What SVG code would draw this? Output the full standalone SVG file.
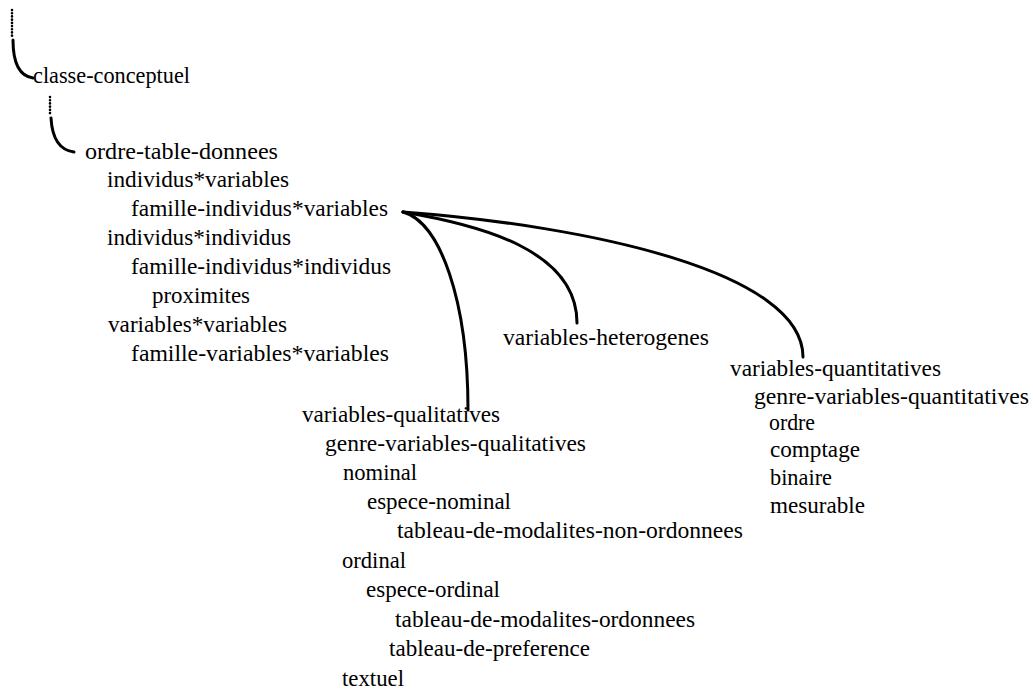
<svg xmlns="http://www.w3.org/2000/svg" width="1033" height="689" viewBox="0 0 1033 689">
<style>
text{font-family:"Liberation Serif","Times New Roman",serif;font-size:23px;fill:#000;}
.c{fill:none;stroke:#000;stroke-width:3;stroke-linecap:round;}
.d{fill:none;stroke:#000;stroke-width:2.6;stroke-linecap:round;stroke-dasharray:0.1 3.1;}
</style>
<rect width="1033" height="689" fill="#fff"/>
<g id="connectors">
<path class="d" d="M12,10 V37"/>
<path class="c" d="M13,40 C13,62 19,76 33,78"/>
<path class="d" d="M50,97 V115"/>
<path class="c" d="M51,118 C52,136 58,150 74,152"/>
<path class="c" d="M403,212 C440,222 468,300 468,410"/>
<path class="c" d="M403,212 C480,225 577,250 577,323"/>
<path class="c" d="M403,212 C590,226 803,272 803,357"/>
</g>
<g id="n-classe-conceptuel"><text x="33" y="83" textLength="157" lengthAdjust="spacingAndGlyphs">classe-conceptuel</text></g>
<g id="n-ordre-table-donnees"><text x="85" y="159" textLength="193" lengthAdjust="spacingAndGlyphs">ordre-table-donnees</text></g>
<g id="n-individus-variables"><text x="107" y="187" textLength="182" lengthAdjust="spacingAndGlyphs">individus*variables</text></g>
<g id="n-famille-individus-variables"><text x="131" y="216" textLength="257" lengthAdjust="spacingAndGlyphs">famille-individus*variables</text></g>
<g id="n-individus-individus"><text x="107" y="245" textLength="184" lengthAdjust="spacingAndGlyphs">individus*individus</text></g>
<g id="n-famille-individus-individus"><text x="131" y="274" textLength="260" lengthAdjust="spacingAndGlyphs">famille-individus*individus</text></g>
<g id="n-proximites"><text x="152" y="303" textLength="98" lengthAdjust="spacingAndGlyphs">proximites</text></g>
<g id="n-variables-variables"><text x="108" y="332" textLength="179" lengthAdjust="spacingAndGlyphs">variables*variables</text></g>
<g id="n-famille-variables-variables"><text x="131" y="361" textLength="258" lengthAdjust="spacingAndGlyphs">famille-variables*variables</text></g>
<g id="n-variables-heterogenes"><text x="503" y="345" textLength="206" lengthAdjust="spacingAndGlyphs">variables-heterogenes</text></g>
<g id="n-variables-quantitatives">
<text x="730" y="376" textLength="211" lengthAdjust="spacingAndGlyphs">variables-quantitatives</text>
<text x="754" y="404" textLength="275" lengthAdjust="spacingAndGlyphs">genre-variables-quantitatives</text>
<text x="769" y="430" textLength="46" lengthAdjust="spacingAndGlyphs">ordre</text>
<text x="770" y="457" textLength="90" lengthAdjust="spacingAndGlyphs">comptage</text>
<text x="770" y="485" textLength="62" lengthAdjust="spacingAndGlyphs">binaire</text>
<text x="770" y="513" textLength="95" lengthAdjust="spacingAndGlyphs">mesurable</text>
</g>
<g id="n-variables-qualitatives">
<text x="302" y="422" textLength="198" lengthAdjust="spacingAndGlyphs">variables-qualitatives</text>
<text x="325" y="451" textLength="261" lengthAdjust="spacingAndGlyphs">genre-variables-qualitatives</text>
<text x="343" y="480" textLength="74" lengthAdjust="spacingAndGlyphs">nominal</text>
<text x="367" y="509" textLength="144" lengthAdjust="spacingAndGlyphs">espece-nominal</text>
<text x="397" y="538" textLength="346" lengthAdjust="spacingAndGlyphs">tableau-de-modalites-non-ordonnees</text>
<text x="342" y="568" textLength="64" lengthAdjust="spacingAndGlyphs">ordinal</text>
<text x="366" y="597" textLength="134" lengthAdjust="spacingAndGlyphs">espece-ordinal</text>
<text x="395" y="627" textLength="300" lengthAdjust="spacingAndGlyphs">tableau-de-modalites-ordonnees</text>
<text x="389" y="656" textLength="201" lengthAdjust="spacingAndGlyphs">tableau-de-preference</text>
<text x="342" y="686" textLength="62" lengthAdjust="spacingAndGlyphs">textuel</text>
</g>
</svg>
